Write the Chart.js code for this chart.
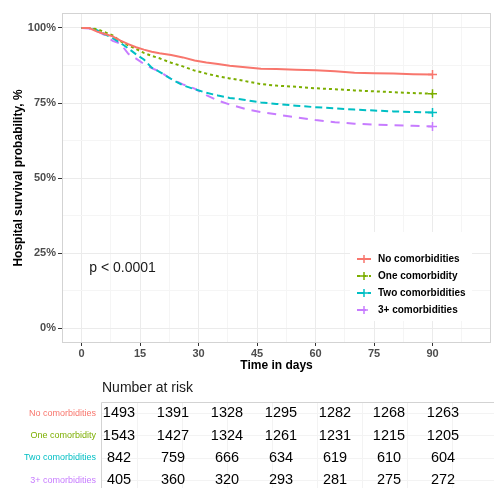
<!DOCTYPE html>
<html>
<head>
<meta charset="utf-8">
<script src="https://cdn.jsdelivr.net/npm/chart.js@4.4.1/dist/chart.umd.min.js"></script>
<style>
html, body { margin: 0; padding: 0; background: #fff; overflow: hidden; width: 494px; height: 488px; }
#wrap1 { position: absolute; left: 0; top: 0; width: 497px; height: 375px; }
#wrap2 { position: absolute; left: 0; top: 375px; width: 497px; height: 127px; }
</style>
</head>
<body>
<div id="wrap1"><canvas id="survChart" width="497" height="375"></canvas></div>
<div id="wrap2"><canvas id="riskChart" width="497" height="127"></canvas></div>
<script>
var groups = ['No comorbidities', 'One comorbidity', 'Two comorbidities', '3+ comorbidities'];
var colors = ['#F8766D', '#7CAE00', '#00BFC4', '#C77CFF'];
var dashes = [[], [3, 3], [7, 4], [9, 7]];

// survival (%)
var days      = [0, 2, 4, 6, 8, 10, 12, 14, 16, 18, 20, 23, 26, 29, 32, 35, 38, 42, 46, 50, 55, 60, 65, 70, 75, 80, 85, 90];
var survNone  = [100, 100, 98.8, 98.0, 97.2, 95.8, 94.6, 93.6, 92.8, 92.1, 91.6, 91.0, 90.2, 89.2, 88.5, 88.0, 87.4, 86.9, 86.4, 86.3, 86.1, 85.9, 85.6, 85.1, 84.9, 84.8, 84.6, 84.5];
var survOne   = [100, 100, 99.6, 98.6, 97.5, 95.6, 94.2, 93.0, 91.7, 90.7, 89.9, 88.4, 87.2, 85.8, 84.8, 83.9, 83.2, 82.3, 81.3, 80.8, 80.4, 79.9, 79.6, 79.2, 78.9, 78.6, 78.3, 78.1];
var survTwo   = [100, 100, 99.3, 97.9, 96.6, 95.0, 93.2, 91.2, 89.5, 86.8, 85.4, 83.0, 80.9, 79.6, 78.4, 77.5, 76.7, 76.0, 75.2, 74.7, 74.1, 73.6, 73.2, 72.8, 72.5, 72.2, 72.0, 71.8];
var survThree = [100, 99.8, 99.0, 97.6, 95.7, 94.8, 91.4, 89.8, 88.0, 86.6, 85.5, 83.0, 81.2, 79.8, 77.6, 75.8, 74.5, 73.0, 72.0, 71.2, 70.2, 69.3, 68.6, 68.1, 67.8, 67.6, 67.4, 67.2];

// number at risk table
var riskDays  = [0, 15, 30, 45, 60, 75, 90];
var riskNone  = [1493, 1391, 1328, 1295, 1282, 1268, 1263];
var riskOne   = [1543, 1427, 1324, 1261, 1231, 1215, 1205];
var riskTwo   = [842, 759, 666, 634, 619, 610, 604];
var riskThree = [405, 360, 320, 293, 281, 275, 272];

var survSeries = [survNone, survOne, survTwo, survThree];
var riskSeries = [riskNone, riskOne, riskTwo, riskThree];

Chart.defaults.font.family = '"Liberation Sans", Arial, sans-serif';

function stepTicks(from, to, step) {
  var t = [];
  for (var v = from; v <= to + 1e-9; v += step) t.push({ value: v });
  return t;
}

var panelPlugin = {
  id: 'panel',
  beforeDatasetsDraw: function(chart) {
    var a = chart.chartArea, ctx = chart.ctx;
    ctx.save();
    ctx.strokeStyle = '#d3d3d3';
    ctx.lineWidth = 1;
    ctx.strokeRect(a.left + 0.5, a.top + 0.5, a.right - a.left - 1, a.bottom - a.top - 1);
    ctx.restore();
  },
  afterDatasetsDraw: function(chart) {
    var ctx = chart.ctx;
    ctx.save();
    // p value
    ctx.fillStyle = '#1a1a1a';
    ctx.font = '14px "Liberation Sans", Arial, sans-serif';
    ctx.textBaseline = 'middle';
    ctx.textAlign = 'left';
    ctx.fillText('p < 0.0001', chart.scales.x.getPixelForValue(2), chart.scales.y.getPixelForValue(20));
    // legend
    ctx.fillStyle = '#fff';
    ctx.fillRect(350, 232, 122, 89);
    chart.data.datasets.forEach(function(ds, i) {
      var y = 259 + i * 17;
      ctx.strokeStyle = ds.borderColor;
      ctx.lineWidth = 2;
      ctx.setLineDash(ds.borderDash);
      ctx.beginPath();
      ctx.moveTo(357, y);
      ctx.lineTo(371, y);
      ctx.stroke();
      ctx.setLineDash([]);
      ctx.lineWidth = 1.5;
      ctx.beginPath();
      ctx.moveTo(364, y - 4);
      ctx.lineTo(364, y + 4);
      ctx.moveTo(360, y);
      ctx.lineTo(368, y);
      ctx.stroke();
      ctx.fillStyle = '#000';
      ctx.font = 'bold 10px "Liberation Sans", Arial, sans-serif';
      ctx.fillText(ds.label, 378, y);
    });
    ctx.restore();
  }
};

new Chart(document.getElementById('survChart'), {
  type: 'line',
  data: {
    datasets: survSeries.map(function(s, i) {
      return {
        label: groups[i],
        data: days.map(function(d, j) { return { x: d, y: s[j] }; }),
        borderColor: colors[i],
        backgroundColor: colors[i],
        borderWidth: 2,
        borderDash: dashes[i],
        fill: false,
        tension: 0,
        pointStyle: 'cross',
        pointRadius: function(c) { return c.dataIndex === days.length - 1 ? 4.5 : 0; },
        pointBorderWidth: 1.5,
        pointBorderColor: colors[i]
      };
    })
  },
  options: {
    responsive: false,
    animation: false,
    layout: { padding: { top: 13, left: 0, right: 0, bottom: 0 } },
    plugins: { legend: { display: false }, tooltip: { enabled: false } },
    scales: {
      x: {
        type: 'linear', min: -5, max: 105,
        afterBuildTicks: function(s) { s.ticks = stepTicks(0, 97.5, 7.5); },
        afterFit: function(s) { s.height = 32; },
        grid: {
          color: function(c) { return c.tick && c.tick.value % 15 === 0 ? '#ebebeb' : '#f5f5f5'; },
          tickColor: function(c) { return c.tick && c.tick.value % 15 === 0 ? '#333333' : 'rgba(0,0,0,0)'; },
          tickLength: 3
        },
        border: { display: false },
        ticks: {
          autoSkip: false, maxRotation: 0, padding: 1, color: '#4d4d4d',
          font: { size: 11, weight: 'bold' },
          callback: function(v) { return v % 15 === 0 ? String(v) : ''; }
        },
        title: { display: true, text: 'Time in days', color: '#000', font: { size: 12, weight: 'bold' }, padding: { top: 0, bottom: 2 } }
      },
      y: {
        type: 'linear', min: -5, max: 105,
        afterBuildTicks: function(s) { s.ticks = stepTicks(0, 100, 12.5); },
        afterFit: function(s) { s.width = 62; },
        grid: {
          color: function(c) { return c.tick && c.tick.value % 25 === 0 ? '#ebebeb' : '#f5f5f5'; },
          tickColor: function(c) { return c.tick && c.tick.value % 25 === 0 ? '#333333' : 'rgba(0,0,0,0)'; },
          tickLength: 4
        },
        border: { display: false },
        ticks: {
          autoSkip: false, padding: 2, color: '#4d4d4d',
          font: { size: 11, weight: 'bold' },
          callback: function(v) { return v % 25 === 0 ? v + '%' : ''; }
        },
        title: { display: true, text: 'Hospital survival probability, %', color: '#000', font: { size: 12, weight: 'bold' }, padding: { top: 11, bottom: 0 } }
      }
    }
  },
  plugins: [panelPlugin]
});

var riskPlugin = {
  id: 'riskText',
  beforeDatasetsDraw: function(chart) {
    var a = chart.chartArea, ctx = chart.ctx;
    ctx.save();
    ctx.strokeStyle = '#d3d3d3';
    ctx.lineWidth = 1;
    ctx.beginPath();
    ctx.moveTo(a.left + 0.5, chart.height);
    ctx.lineTo(a.left + 0.5, a.top + 0.5);
    ctx.lineTo(a.right, a.top + 0.5);
    ctx.stroke();
    ctx.fillStyle = '#1a1a1a';
    ctx.font = '14px "Liberation Sans", Arial, sans-serif';
    ctx.textBaseline = 'middle';
    ctx.textAlign = 'left';
    ctx.fillText('Number at risk', a.left + 1, 13);
    ctx.restore();
  },
  afterDatasetsDraw: function(chart) {
    var ctx = chart.ctx;
    ctx.save();
    ctx.fillStyle = '#000';
    ctx.font = '14.5px "Liberation Sans", Arial, sans-serif';
    ctx.textBaseline = 'middle';
    ctx.textAlign = 'center';
    chart.data.datasets.forEach(function(ds, i) {
      var meta = chart.getDatasetMeta(i);
      meta.data.forEach(function(pt, j) {
        ctx.fillText(String(ds.data[j].n), pt.x, pt.y);
      });
    });
    ctx.restore();
  }
};

new Chart(document.getElementById('riskChart'), {
  type: 'scatter',
  data: {
    datasets: riskSeries.map(function(counts, i) {
      return {
        label: groups[i],
        data: riskDays.map(function(d, j) { return { x: d, y: groups[i], n: counts[j] }; }),
        pointRadius: 0
      };
    })
  },
  options: {
    responsive: false,
    animation: false,
    layout: { padding: { top: 27, left: 0, right: 0, bottom: 0 } },
    plugins: { legend: { display: false }, tooltip: { enabled: false } },
    scales: {
      x: {
        type: 'linear', min: -5, max: 105,
        afterBuildTicks: function(s) { s.ticks = stepTicks(5, 105, 12.5); },
        afterFit: function(s) { s.height = 0; },
        ticks: { display: false },
        grid: { color: '#f3f3f3', drawTicks: false },
        border: { display: false }
      },
      y: {
        type: 'category', labels: groups, offset: true,
        afterFit: function(s) { s.width = 101; },
        ticks: {
          padding: 5,
          color: function(c) { return colors[c.index]; },
          font: { size: 9 }
        },
        grid: { color: '#f3f3f3', drawTicks: false, offset: false },
        border: { display: false }
      }
    }
  },
  plugins: [riskPlugin]
});
</script>
</body>
</html>
